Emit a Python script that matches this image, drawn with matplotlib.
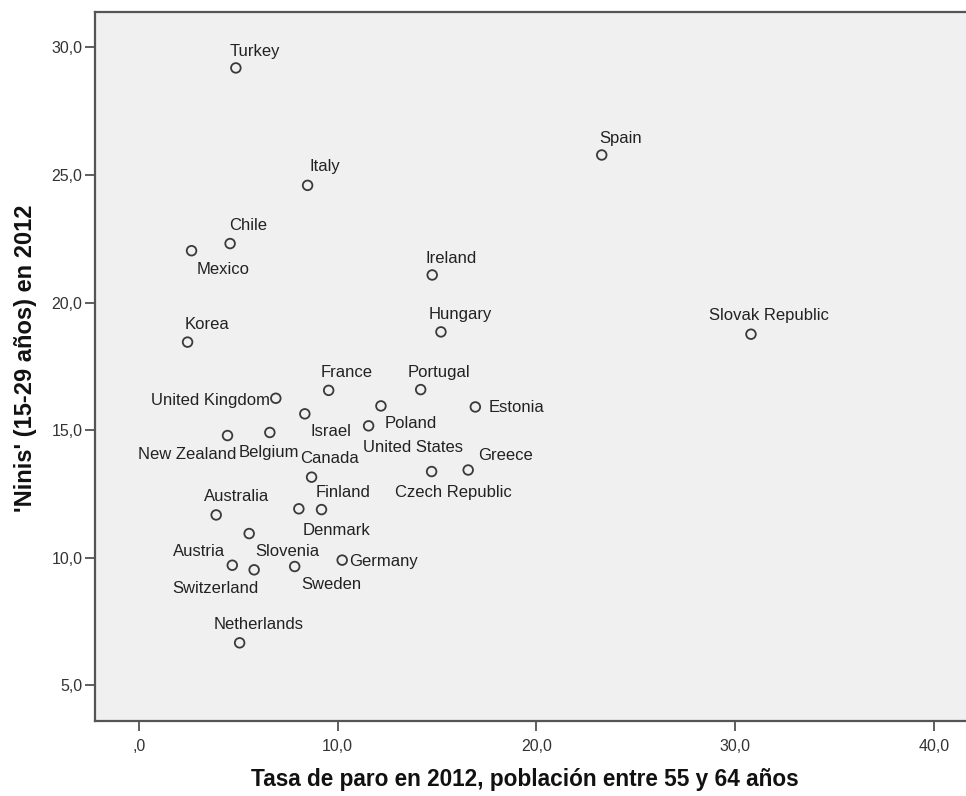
import matplotlib
matplotlib.use("Agg")
import matplotlib.pyplot as plt
from matplotlib.ticker import FuncFormatter

plt.rcParams["font.family"] = ["Liberation Sans", "DejaVu Sans"]

# OECD countries, 2012
countries = ["Turkey", "Italy", "Chile", "Mexico", "Korea", "Hungary", "France",
             "Portugal", "United Kingdom", "Poland", "Estonia", "Israel",
             "United States", "Belgium", "New Zealand", "Canada", "Czech Republic",
             "Greece", "Australia", "Denmark", "Finland", "Slovenia", "Austria",
             "Switzerland", "Sweden", "Germany", "Netherlands", "Ireland", "Spain",
             "Slovak Republic"]
# unemployment rate 55-64
paro = [4.88, 8.49, 4.59, 2.65, 2.45, 15.20, 9.55,
        14.18, 6.89, 12.18, 16.93, 8.35,
        11.56, 6.59, 4.46, 8.69, 14.73,
        16.57, 3.89, 8.05, 9.19, 5.55, 4.70,
        5.80, 7.84, 10.23, 5.07, 14.76, 23.29,
        30.80]
# 'ninis' 15-29
ninis = [29.19, 24.59, 22.31, 22.03, 18.45, 18.85, 16.56,
         16.59, 16.25, 15.95, 15.91, 15.64,
         15.17, 14.91, 14.79, 13.16, 13.38,
         13.44, 11.68, 11.92, 11.89, 10.95, 9.71,
         9.53, 9.66, 9.91, 6.67, 21.08, 25.78,
         18.76]

xticks = [0, 10, 20, 30, 40]
yticks = [5, 10, 15, 20, 25, 30]

# label offsets in pixels (text centre x, baseline y) relative to the marker
label_offsets = {
    "Turkey": (19, 12), "Italy": (17, 14), "Chile": (18, 14), "Mexico": (32, -23),
    "Korea": (19, 13), "Hungary": (19, 13), "France": (18, 13), "Portugal": (18, 13),
    "United Kingdom": (-65, -7), "Poland": (30, -22), "Estonia": (41, -5),
    "Israel": (26, -22), "United States": (44, -26), "Belgium": (-1, -25),
    "New Zealand": (-40, -23), "Canada": (18, 14), "Czech Republic": (22, -25),
    "Greece": (37, 10), "Australia": (20, 14), "Denmark": (38, -26),
    "Finland": (22, 13), "Slovenia": (38, -22), "Austria": (-33, 9),
    "Switzerland": (-39, -23), "Sweden": (37, -22), "Germany": (41, -6),
    "Netherlands": (19, 14), "Ireland": (19, 12), "Spain": (19, 12),
    "Slovak Republic": (18, 14),
}


def coma(v, pos):
    s = ("%.1f" % v).replace(".", ",")
    return ",0" if v == 0 else s


fig = plt.figure(figsize=(9.66, 7.96), dpi=100)
ax = fig.add_axes([0.0983, 0.0946, 0.9017, 0.8903])
ax.set_facecolor("#f0f0f0")

ax.scatter(paro, ninis, s=48, facecolors="none", edgecolors="#3a3a3a",
           linewidths=1.3, zorder=3)

for name, x, y in zip(countries, paro, ninis):
    dx, dy = label_offsets[name]
    ax.annotate(name, (x, y), xytext=(dx, dy), textcoords="offset pixels",
                ha="center", va="baseline", fontsize=12, color="#222222")

ax.set_xlim(-2.21, 41.62)
ax.set_ylim(3.62, 31.38)
ax.set_xticks(xticks)
ax.set_yticks(yticks)
ax.xaxis.set_major_formatter(FuncFormatter(coma))
ax.yaxis.set_major_formatter(FuncFormatter(coma))
ax.tick_params(direction="out", length=7, width=1.2, colors="#444444",
               labelsize=11.5, labelcolor="#333333", pad=2)
ax.tick_params(axis="x", pad=6)

for side in ["left", "bottom", "top"]:
    ax.spines[side].set_color("#555555")
    ax.spines[side].set_linewidth(1.6)
ax.spines["right"].set_visible(False)

ax.set_xlabel("Tasa de paro en 2012, población entre 55 y 64 años",
              fontsize=16.3, fontweight="bold", color="#111111")
ax.set_ylabel("'Ninis' (15-29 años) en 2012",
              fontsize=17, fontweight="bold", color="#111111")
ax.xaxis.set_label_coords(0.4937, -(768 - 720.7) / 708.7)
ax.yaxis.set_label_coords(-(95 - 37) / 871, (720.7 - 358) / 708.7)

fig.savefig("out.png", dpi=100)
